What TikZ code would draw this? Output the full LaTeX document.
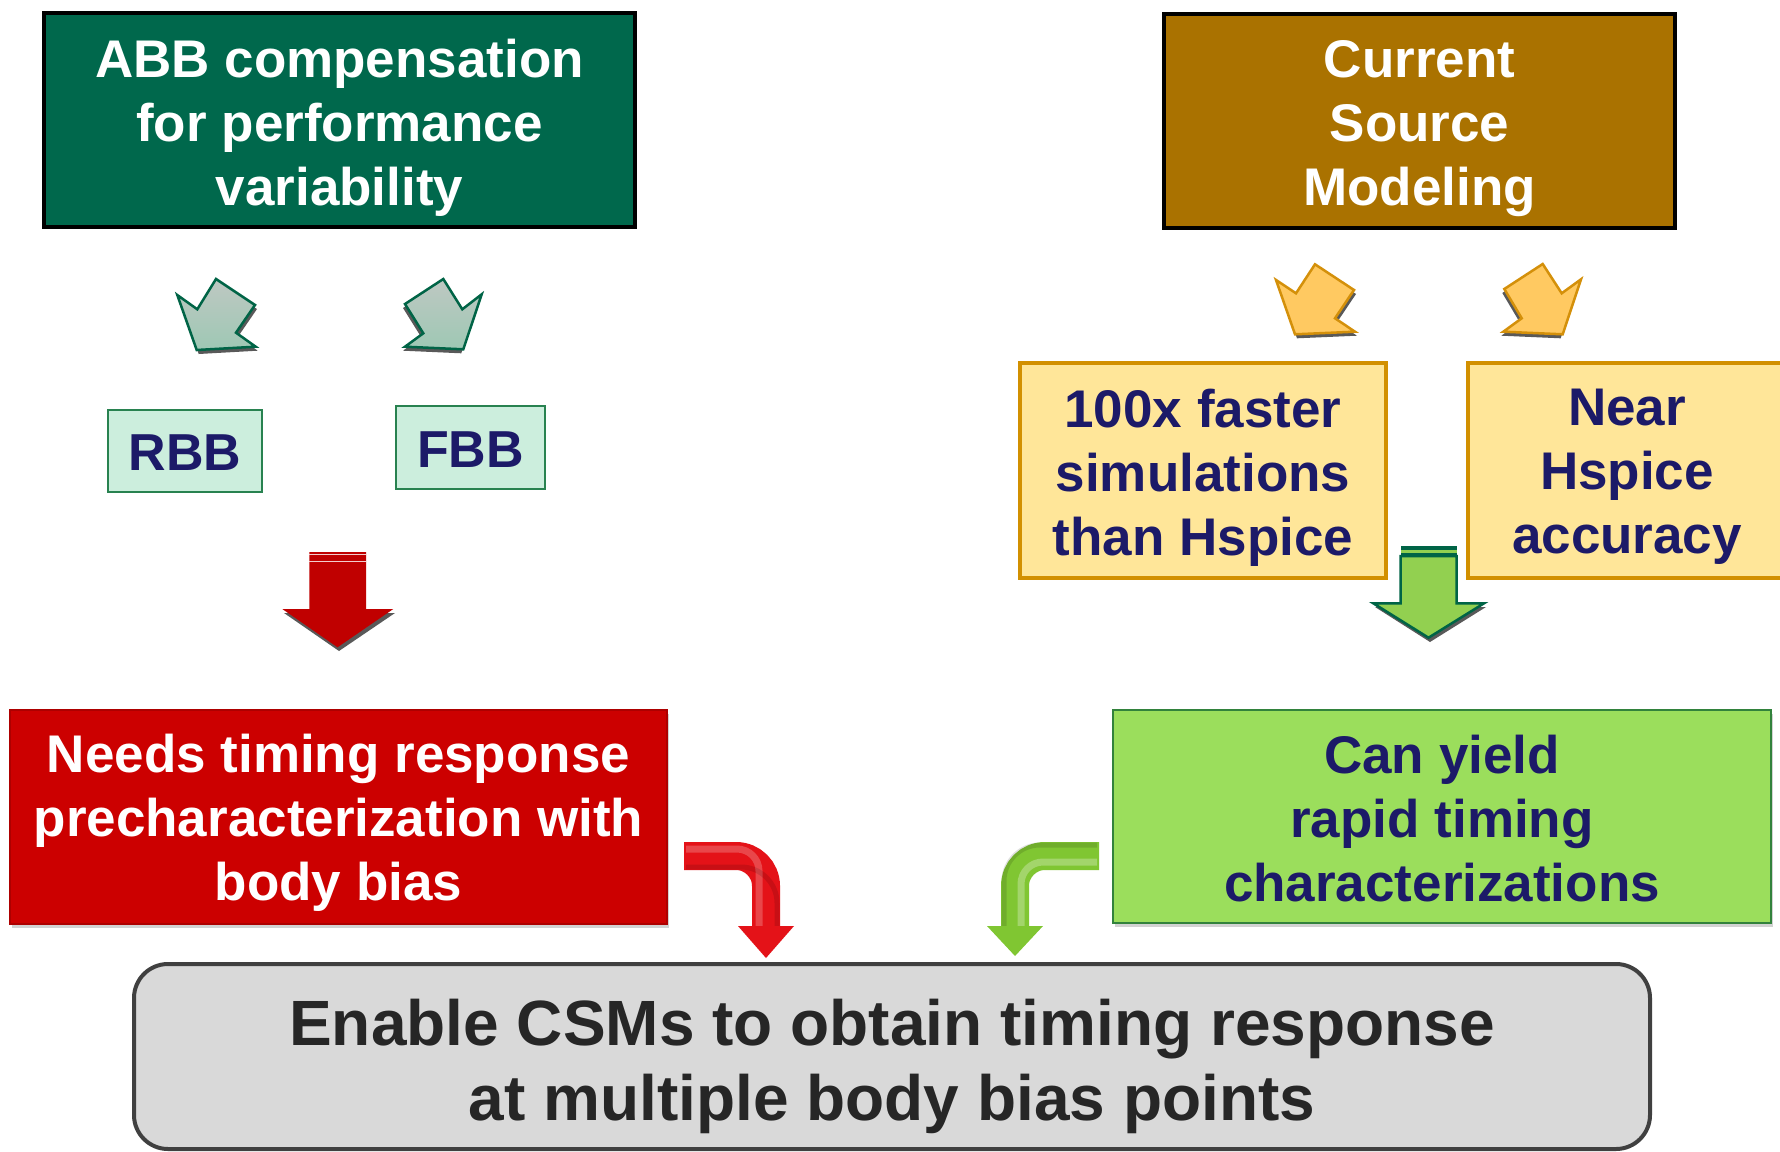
\documentclass[tikz,border=0pt]{standalone}
\usepackage{fontspec}
\setmainfont{Liberation Sans}
\usetikzlibrary{shadows,calc}
\definecolor{abbgreen}{RGB}{0,104,76}
\definecolor{csmbrown}{RGB}{170,114,0}
\definecolor{mintfill}{RGB}{204,238,221}
\definecolor{mintborder}{RGB}{40,130,80}
\definecolor{navytext}{RGB}{28,26,104}
\definecolor{yelfill}{RGB}{255,230,153}
\definecolor{yelborder}{RGB}{210,144,0}
\definecolor{needsred}{RGB}{204,0,0}
\definecolor{cangreen}{RGB}{155,222,92}
\definecolor{canborder}{RGB}{50,130,60}
\definecolor{botfill}{RGB}{217,217,217}
\definecolor{botborder}{RGB}{64,64,64}
\definecolor{bottext}{RGB}{38,38,38}
\definecolor{arrred}{RGB}{192,0,0}
\definecolor{arrgreen}{RGB}{146,208,80}
\definecolor{arrgreenb}{RGB}{0,100,70}
\definecolor{orfill}{RGB}{255,201,97}
\definecolor{orborder}{RGB}{212,144,10}
\definecolor{bendred}{RGB}{228,18,24}
\definecolor{bendgreen}{RGB}{128,198,50}
\definecolor{smtop}{RGB}{190,200,194}
\definecolor{smbot}{RGB}{158,200,180}
\begin{document}
\begin{tikzpicture}[x=1pt,y=-1pt,
  boxshape/.style={rectangle, inner sep=0pt},
  txt/.style={inner sep=0pt, align=center,
    font=\bfseries\fontsize{53}{64}\selectfont},
  smalltxt/.style={inner sep=0pt, align=center,
    font=\bfseries\fontsize{52}{60}\selectfont},
  smallgreen/.style={draw=arrgreenb, line width=2.5pt, top color=smtop, bottom color=smbot, line join=miter},
  smallorange/.style={draw=orborder, line width=2.5pt, fill=orfill, line join=miter},
  arrshadow/.style={fill=black!65}
]
\useasboundingbox (0,0) rectangle (1780,1151);
\clip (0,0) rectangle (1780,1151);
\fill[white] (0,0) rectangle (1780,1151);

% top boxes
\node[boxshape, fill=abbgreen, draw=black, line width=4pt,
  minimum width=591, minimum height=214] (abb) at (339.5,120) {};
\node[txt, text=white] (abbt) at ($(abb.center)+(0,8)$)
  {ABB compensation\\for performance\\variability};
\node[boxshape, fill=csmbrown, draw=black, line width=4pt,
  minimum width=511, minimum height=214] (csm) at (1419.5,121) {};
\node[txt, text=white] (csmt) at ($(csm.center)+(0,8)$)
  {Current\\Source\\Modeling};

% small green arrows
\fill[arrshadow] ($(177.3,295)+(2,4)$) -- ($(197.3,309.3)+(2,4)$) -- ($(216,279)+(2,4)$) -- ($(255,305)+(2,4)$) -- ($(236,332.7)+(2,4)$) -- ($(255.7,346.7)+(2,4)$) -- ($(196.7,350)+(2,4)$) -- cycle;
\path[smallgreen] (177.3,295) -- (197.3,309.3) -- (216,279) -- (255,305) -- (236,332.7) -- (255.7,346.7) -- (196.7,350) -- cycle;
\fill[arrshadow] ($(405,304)+(-2,4)$) -- ($(443.3,279)+(-2,4)$) -- ($(462.3,309.3)+(-2,4)$) -- ($(481.7,294.3)+(-2,4)$) -- ($(463.3,349.3)+(-2,4)$) -- ($(405,346.7)+(-2,4)$) -- ($(423.3,333.3)+(-2,4)$) -- cycle;
\path[smallgreen] (405,304) -- (443.3,279) -- (462.3,309.3) -- (481.7,294.3) -- (463.3,349.3) -- (405,346.7) -- (423.3,333.3) -- cycle;

% small orange arrows
\fill[arrshadow] ($(1276,280)+(2,4)$) -- ($(1296,293.3)+(2,4)$) -- ($(1315,264.3)+(2,4)$) -- ($(1354,290)+(2,4)$) -- ($(1335,318.3)+(2,4)$) -- ($(1355,331.7)+(2,4)$) -- ($(1295,334.3)+(2,4)$) -- cycle;
\path[smallorange] (1276,280) -- (1296,293.3) -- (1315,264.3) -- (1354,290) -- (1335,318.3) -- (1355,331.7) -- (1295,334.3) -- cycle;
\fill[arrshadow] ($(1504.3,289)+(-2,4)$) -- ($(1542.7,264)+(-2,4)$) -- ($(1561.7,293.3)+(-2,4)$) -- ($(1581,279.3)+(-2,4)$) -- ($(1562.7,334.3)+(-2,4)$) -- ($(1503.3,331.7)+(-2,4)$) -- ($(1521.7,318.3)+(-2,4)$) -- cycle;
\path[smallorange] (1504.3,289) -- (1542.7,264) -- (1561.7,293.3) -- (1581,279.3) -- (1562.7,334.3) -- (1503.3,331.7) -- (1521.7,318.3) -- cycle;

% RBB / FBB
\node[boxshape, fill=mintfill, draw=mintborder, line width=2pt,
  minimum width=154, minimum height=82] (rbb) at (185,451) {};
\node[smalltxt, text=navytext] (rbbt) at ($(rbb.center)+(0,2)$) {RBB};
\node[boxshape, fill=mintfill, draw=mintborder, line width=2pt,
  minimum width=149, minimum height=83] (fbb) at (470.5,447.5) {};
\node[smalltxt, text=navytext] (fbbt) at ($(fbb.center)+(0,2)$) {FBB};

% yellow boxes
\node[boxshape, fill=yelfill, draw=yelborder, line width=4pt,
  minimum width=366, minimum height=215] (fast) at (1203,470.5) {};
\node[txt, text=navytext] (fastt) at ($(fast.center)+(0,7)$)
  {100x faster\\simulations\\than Hspice};
\node[boxshape, fill=yelfill, draw=yelborder, line width=4pt,
  minimum width=318, minimum height=215] (near) at (1627,470) {};
\node[txt, text=navytext] (neart) at ($(near.center)+(0,7)$)
  {Near\\Hspice\\accuracy};

% red straight arrow
\fill[arrshadow] (284,613) -- (395,613) -- (339,651) -- cycle;
\fill[arrred] (309.3,552) -- (366,552) -- (366,609) -- (393.3,609) -- (337.5,647.3) -- (282.3,609) -- (309.3,609) -- cycle;
\draw[white!80!arrred, line width=1.2pt] (309.3,554.5) -- (366,554.5);
\draw[white!80!arrred, line width=1.2pt] (309.3,561.5) -- (366,561.5);

% green straight arrow
\fill[arrshadow] (1375,607) -- (1486,607) -- (1430,642) -- cycle;
\path[fill=arrgreen, draw=arrgreenb, line width=2.5pt] (1400.7,556) -- (1456.7,556) -- (1456.7,603.3) -- (1484,603.3) -- (1428.5,637.7) -- (1373.3,603.3) -- (1400.7,603.3) -- cycle;
\fill[arrgreenb] (1400.7,545.5) rectangle (1456.7,550);
\fill[arrgreen] (1400.7,550) rectangle (1456.7,553);
\fill[arrgreenb] (1400.7,553) rectangle (1456.7,557);

% middle boxes
\node[boxshape, fill=needsred, draw=needsred!85!black, line width=1.5pt,
  minimum width=657, minimum height=214,
  drop shadow={shadow xshift=2pt, shadow yshift=-4pt, opacity=0.35}] (needs) at (338.5,817) {};
\node[txt, text=white] (needst) at ($(needs.center)+(0,6)$)
  {Needs timing response\\precharacterization with\\body bias};
\node[boxshape, fill=cangreen, draw=canborder, line width=2pt,
  minimum width=658, minimum height=213,
  drop shadow={shadow xshift=2pt, shadow yshift=-4pt, opacity=0.35}] (can) at (1442,816.5) {};
\node[txt, text=navytext] (cant) at ($(can.center)+(0,2)$)
  {Can yield\\rapid timing\\characterizations};

% bent arrows
\coordinate (rs) at (684,856);
\coordinate (rc) at (766,928);
\draw[line width=28pt, bendred, rounded corners=30pt] (rs) -| (rc);
\draw[line width=7pt, white, opacity=0.22, rounded corners=22pt] (686,849) -| (759,926);
\draw[line width=5pt, black, opacity=0.12, rounded corners=36pt] (686,867) -| (777,926);
\fill[bendred] (738,926) -- (794,926) -- (766,958) -- cycle;

\coordinate (gs) at (1099,856);
\coordinate (gc) at (1015,928);
\draw[line width=28pt, bendgreen, rounded corners=30pt] (gs) -| (gc);
\draw[line width=7pt, white, opacity=0.28, rounded corners=22pt] (1097,862) -| (1021,926);
\draw[line width=5pt, black, opacity=0.12, rounded corners=36pt] (1097,845) -| (1004,926);
\fill[bendgreen] (987,926) -- (1043,926) -- (1015,956) -- cycle;

% bottom box
\node[draw=botborder, fill=botfill, line width=4pt, rounded corners=34pt,
  minimum width=1516, minimum height=185, inner sep=0pt] (bot) at (892,1056.5) {};
\node[align=center, inner sep=0pt, text=bottext,
  font=\bfseries\fontsize{64}{75}\selectfont] (bottxt) at ($(bot.center)+(0,10)$)
  {Enable CSMs to obtain timing response\\at multiple body bias points};
\end{tikzpicture}
\end{document}
